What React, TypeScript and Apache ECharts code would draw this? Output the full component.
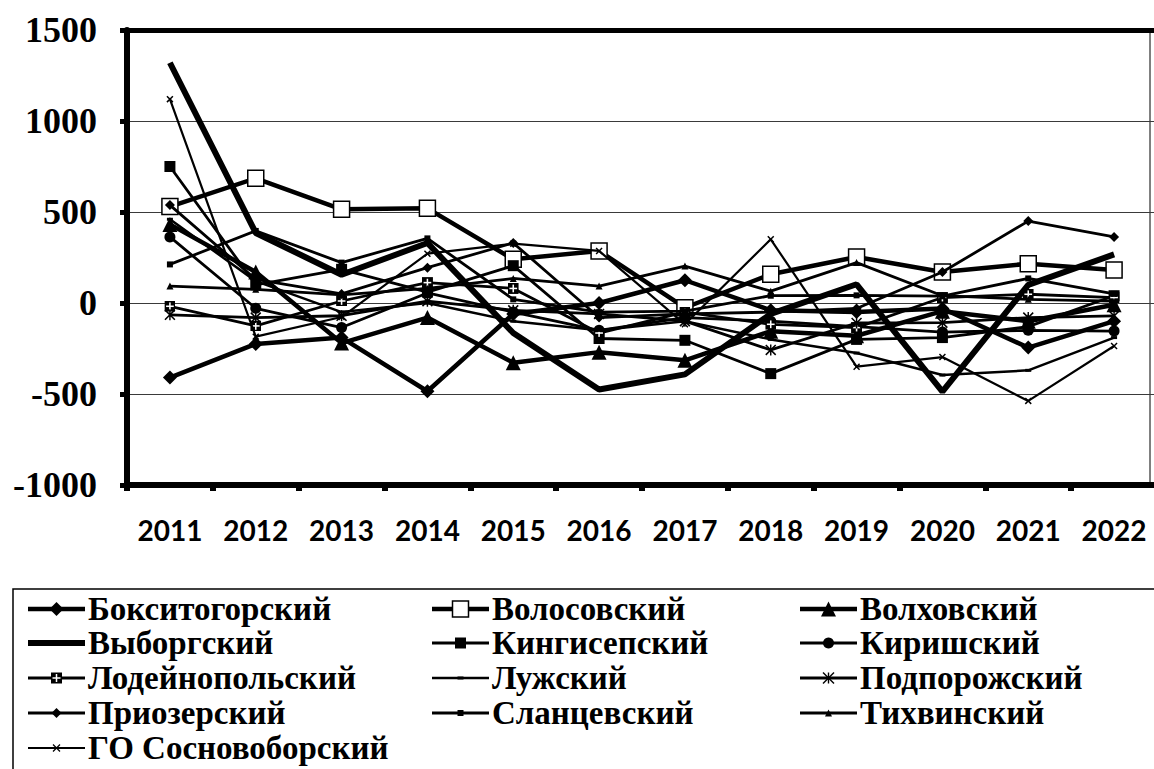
import React, { useEffect, useRef } from "react";
import * as echarts from "echarts";

// ---------- data ----------
const years = ["2011", "2012", "2013", "2014", "2015", "2016", "2017", "2018", "2019", "2020", "2021", "2022"];
const Y_MIN = -1000;
const Y_MAX = 1500;
const Y_STEP = 500;

const seriesNames = [
  "Бокситогорский", "Волосовский", "Волховский",
  "Выборгский", "Кингисепский", "Киришский",
  "Лодейнопольский", "Лужский", "Подпорожский",
  "Приозерский", "Сланцевский", "Тихвинский",
  "ГО Сосновоборский",
];

const boksitogorsky = [-410, -225, -190, -485, -60, 0, 125, -40, -50, -30, -245, -100];
const volosovsky = [530, 685, 515, 520, 240, 286, -26, 158, 253, 170, 216, 181];
const volkhovsky = [432, 170, -220, -80, -328, -270, -315, -155, -180, -45, -100, -10];
const vyborgsky = [1320, 385, 155, 330, -165, -475, -392, -60, 103, -487, 100, 267];
const kingiseppsky = [750, 100, 185, 60, 205, -195, -205, -388, -200, -190, -130, 40];
const kirishsky = [363, -29, -135, 55, -50, -150, -80, -100, -130, -160, -150, -154];
const lodeynopolsky = [-18, -126, 11, 112, 80, -165, -50, -117, -135, 30, 48, 30];
const luzhsky = [460, 120, -50, 0, -100, -150, -100, -200, -275, -396, -370, -190];
const podporozhsky = [-65, -80, -70, 10, -40, -60, -100, -258, -110, -108, -80, -71];
const priozersky = [538, 130, 50, 194, 330, -80, -60, -50, -30, 170, 450, 363];
const slantsevsky = [212, 396, 222, 355, 20, -50, -45, 40, 42, 38, 135, 50];
const tikhvinsky = [93, 75, 45, 80, 135, 93, 203, 65, 222, 40, 20, 10];
const sosnovoborsky = [1120, -185, -77, 271, 326, 286, -117, 350, -350, -297, -538, -236];

const seriesValues = [
  boksitogorsky, volosovsky, volkhovsky,
  vyborgsky, kingiseppsky, kirishsky,
  lodeynopolsky, luzhsky, podporozhsky,
  priozersky, slantsevsky, tikhvinsky,
  sosnovoborsky,
];

// ---------- styles ----------
const SERIF = "Liberation Serif, DejaVu Serif";
const XLABEL_FONT = "Lato";

type Kind = "diamond" | "hollow" | "triangle" | "none" | "rect" | "circle" | "plus" | "asterisk" | "x" | "dash";
const styles: { kind: Kind; size: number; width: number }[] = [
  { kind: "diamond", size: 14, width: 4.5 },
  { kind: "hollow", size: 16, width: 4.5 },
  { kind: "triangle", size: 15, width: 4.5 },
  { kind: "none", size: 0, width: 6 },
  { kind: "rect", size: 11, width: 2.8 },
  { kind: "circle", size: 11, width: 2.8 },
  { kind: "plus", size: 11, width: 2.8 },
  { kind: "dash", size: 6, width: 2.5 },
  { kind: "asterisk", size: 11, width: 2.8 },
  { kind: "diamond", size: 10, width: 2.8 },
  { kind: "rect", size: 6, width: 2.8 },
  { kind: "triangle", size: 7, width: 2.8 },
  { kind: "x", size: 7, width: 2.2 },
];

const X_PATH = "path://M0 1.5L1.5 0L10 8.5L8.5 10Z M8.5 0L10 1.5L1.5 10L0 8.5Z";
const STAR_PATH = "path://M4.35 0H5.65V10H4.35Z M0 1L1 0L10 9L9 10Z M9 0L10 1L1 10L0 9Z";
const DASH_PATH = "path://M0 0H10V3H0Z";
const plusSvg =
  '<svg xmlns="http://www.w3.org/2000/svg" width="20" height="20" viewBox="0 0 20 20">' +
  '<rect width="20" height="20" fill="#000"/>' +
  '<rect x="8.6" y="3" width="2.8" height="14" fill="#fff"/>' +
  '<rect x="3" y="8.6" width="14" height="2.8" fill="#fff"/></svg>';
const PLUS_IMG = "image://data:image/svg+xml;charset=utf-8," + encodeURIComponent(plusSvg);

function seriesSymbol(kind: Kind, size: number): { symbol: string; symbolSize: any } {
  switch (kind) {
    case "diamond": return { symbol: "diamond", symbolSize: size };
    case "hollow": return { symbol: "rect", symbolSize: size };
    case "triangle": return { symbol: "triangle", symbolSize: size };
    case "rect": return { symbol: "rect", symbolSize: size };
    case "circle": return { symbol: "circle", symbolSize: size };
    case "plus": return { symbol: PLUS_IMG, symbolSize: size };
    case "asterisk": return { symbol: STAR_PATH, symbolSize: size };
    case "x": return { symbol: X_PATH, symbolSize: size };
    case "dash": return { symbol: DASH_PATH, symbolSize: [size, 3] };
    default: return { symbol: "none", symbolSize: 0 };
  }
}

function markerGraphic(kind: Kind, cx: number, cy: number, s: number): any {
  const h = s / 2;
  const black = { fill: "#000" };
  switch (kind) {
    case "diamond":
      return { type: "polygon", shape: { points: [[cx, cy - h], [cx + h, cy], [cx, cy + h], [cx - h, cy]] }, style: black };
    case "hollow":
      return { type: "rect", shape: { x: cx - h, y: cy - h, width: s, height: s }, style: { fill: "#fff", stroke: "#000", lineWidth: 1.5 } };
    case "triangle":
      return { type: "polygon", shape: { points: [[cx, cy - h], [cx + h, cy + h], [cx - h, cy + h]] }, style: black };
    case "rect":
      return { type: "rect", shape: { x: cx - h, y: cy - h, width: s, height: s }, style: black };
    case "circle":
      return { type: "circle", shape: { cx, cy, r: h }, style: black };
    case "plus":
      return {
        type: "group",
        children: [
          { type: "rect", shape: { x: cx - h, y: cy - h, width: s, height: s }, style: black },
          { type: "rect", shape: { x: cx - 0.75, y: cy - h + 1.5, width: 1.5, height: s - 3 }, style: { fill: "#fff" } },
          { type: "rect", shape: { x: cx - h + 1.5, y: cy - 0.75, width: s - 3, height: 1.5 }, style: { fill: "#fff" } },
        ],
      };
    case "asterisk":
      return {
        type: "group",
        children: [
          { type: "line", shape: { x1: cx, y1: cy - h, x2: cx, y2: cy + h }, style: { stroke: "#000", lineWidth: 1.4 } },
          { type: "line", shape: { x1: cx - h, y1: cy - h, x2: cx + h, y2: cy + h }, style: { stroke: "#000", lineWidth: 1.4 } },
          { type: "line", shape: { x1: cx + h, y1: cy - h, x2: cx - h, y2: cy + h }, style: { stroke: "#000", lineWidth: 1.4 } },
        ],
      };
    case "x":
      return {
        type: "group",
        children: [
          { type: "line", shape: { x1: cx - h, y1: cy - h, x2: cx + h, y2: cy + h }, style: { stroke: "#000", lineWidth: 1.3 } },
          { type: "line", shape: { x1: cx + h, y1: cy - h, x2: cx - h, y2: cy + h }, style: { stroke: "#000", lineWidth: 1.3 } },
        ],
      };
    case "dash":
      return { type: "rect", shape: { x: cx - h, y: cy - 1.5, width: s, height: 3 }, style: black };
    default:
      return null;
  }
}

// legend layout
const legendColX = [28, 432, 800];
const legendRowY = [609, 643, 678, 713, 748];
const LEGEND_ICON_W = 57;

export default function App() {
  const ref = useRef<HTMLDivElement>(null);

  useEffect(() => {
    if (!ref.current) return;
    const chart = echarts.init(ref.current, null, { renderer: "svg" });

    const series = seriesNames.map((name, i) => {
      const st = styles[i];
      const sym = seriesSymbol(st.kind, st.size);
      return {
        type: "line",
        name,
        data: seriesValues[i],
        symbol: sym.symbol,
        symbolSize: sym.symbolSize,
        showSymbol: st.kind !== "none",
        showAllSymbol: true,
        silent: true,
        lineStyle: { color: "#000", width: st.width },
        itemStyle:
          st.kind === "hollow"
            ? { color: "#fff", borderColor: "#000", borderWidth: 1.5 }
            : { color: "#000", borderWidth: 0 },
        emphasis: { disabled: true },
        z: 2 + i * 0.01,
      };
    });

    const graphics: any[] = [];
    graphics.push({
      type: "rect",
      shape: { x: 13, y: 589, width: 1200, height: 300 },
      style: { fill: "none", stroke: "#000", lineWidth: 1.5 },
    });
    graphics.push({
      type: "line",
      shape: { x1: 1150, y1: 30, x2: 1150, y2: 485 },
      style: { stroke: "#000", lineWidth: 1 },
    });
    seriesNames.forEach((name, i) => {
      const st = styles[i];
      const col = i % 3;
      const row = Math.floor(i / 3);
      const x0 = legendColX[col];
      const y0 = legendRowY[row];
      graphics.push({
        type: "line",
        shape: { x1: x0, y1: y0, x2: x0 + LEGEND_ICON_W, y2: y0 },
        style: { stroke: "#000", lineWidth: st.width },
      });
      const m = markerGraphic(st.kind, x0 + LEGEND_ICON_W / 2, y0, st.size);
      if (m) graphics.push(m);
      graphics.push({
        type: "text",
        x: x0 + LEGEND_ICON_W + 3,
        y: y0,
        style: {
          text: name,
          fill: "#000",
          font: "bold 33px " + SERIF,
          verticalAlign: "middle",
          align: "left",
        },
      });
    });

    chart.setOption({
      animation: false,
      backgroundColor: "#fff",
      grid: { left: 127, top: 30, right: 8, bottom: 284, containLabel: false },
      xAxis: [
        {
          type: "category",
          data: years,
          boundaryGap: true,
          position: "bottom",
          axisLine: { onZero: false, lineStyle: { color: "#000", width: 6 } },
          axisTick: { show: true, length: 6, lineStyle: { color: "#000", width: 6 } },
          axisLabel: {
            color: "#000",
            fontFamily: XLABEL_FONT,
            fontWeight: "bold",
            fontSize: 28,
            margin: 31,
          },
          splitLine: { show: false },
        },
        {
          type: "category",
          data: years,
          boundaryGap: true,
          position: "top",
          axisLine: { onZero: false, lineStyle: { color: "#000", width: 5 } },
          axisTick: { show: false },
          axisLabel: { show: false },
          splitLine: { show: false },
        },
      ],
      yAxis: {
        type: "value",
        min: Y_MIN,
        max: Y_MAX,
        interval: Y_STEP,
        axisLine: { show: true, lineStyle: { color: "#000", width: 6 } },
        axisTick: { show: true, length: 7, lineStyle: { color: "#000", width: 5 } },
        axisLabel: {
          color: "#000",
          fontFamily: SERIF,
          fontWeight: "bold",
          fontSize: 36,
          margin: 30,
          formatter: (v: number) => String(v),
        },
        splitLine: { show: true, lineStyle: { color: "#3a3a3a", width: 1 } },
      },
      series,
      graphic: graphics,
    });

    return () => chart.dispose();
  }, []);

  return (
    <div
      ref={ref}
      style={{ position: "fixed", left: 0, top: 0, width: 1165, height: 769, background: "#fff" }}
    />
  );
}
